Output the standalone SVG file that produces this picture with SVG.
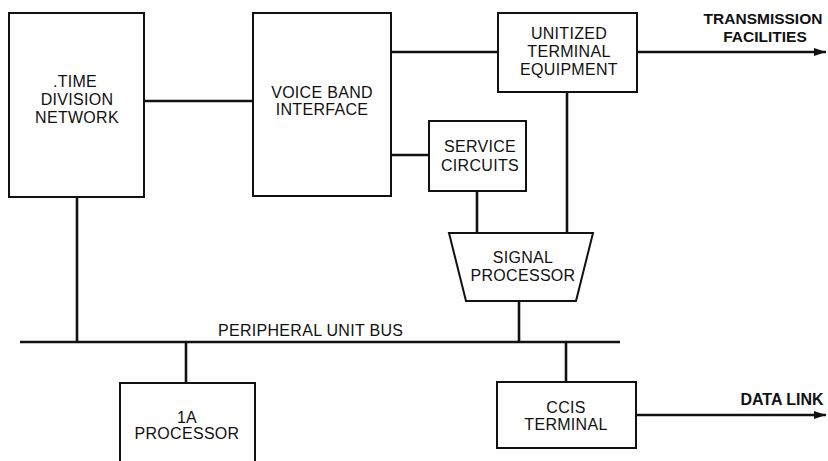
<svg xmlns="http://www.w3.org/2000/svg" width="828" height="461" viewBox="0 0 828 461">
<defs>
<marker id="arr" viewBox="0 0 12 8" refX="12" refY="4" markerWidth="12" markerHeight="8" markerUnits="userSpaceOnUse" orient="auto">
<path d="M0,0 L12,4 L0,8 z" fill="#111"/>
</marker>
</defs>
<style>
.box{fill:#fff;stroke:#111;stroke-width:2}
.ln{fill:none;stroke:#111;stroke-width:2.6}
text{font-family:"Liberation Sans",Arial,sans-serif;font-size:16px;fill:#111;text-anchor:middle;letter-spacing:0.3px}
.b{font-weight:bold;font-size:15.5px;letter-spacing:0}
</style>
<rect width="828" height="461" fill="#fff"/>
<g id="connectors">
<line class="ln" x1="144" y1="101" x2="253" y2="101"/>
<line class="ln" x1="391" y1="52" x2="498" y2="52"/>
<line class="ln" x1="391" y1="155" x2="429" y2="155"/>
<line class="ln" x1="637" y1="52" x2="826" y2="52" marker-end="url(#arr)"/>
<line class="ln" x1="477" y1="191" x2="477" y2="233"/>
<line class="ln" x1="567" y1="92" x2="567" y2="233"/>
<line class="ln" x1="519" y1="301" x2="519" y2="342"/>
<line class="ln" x1="20" y1="342" x2="620" y2="342"/>
<line class="ln" x1="77" y1="197" x2="77" y2="342"/>
<line class="ln" x1="186" y1="342" x2="186" y2="383"/>
<line class="ln" x1="566" y1="342" x2="566" y2="382"/>
<line class="ln" x1="636" y1="415" x2="826" y2="415" marker-end="url(#arr)"/>
</g>
<g id="tdn">
<rect class="box" x="9" y="13" width="135" height="184"/>
<text x="75" y="87">.TIME</text>
<text x="77" y="105">DIVISION</text>
<text x="77" y="123">NETWORK</text>
</g>
<g id="vbi">
<rect class="box" x="253" y="13" width="138" height="183"/>
<text x="322" y="98">VOICE BAND</text>
<text x="322" y="115">INTERFACE</text>
</g>
<g id="ute">
<rect class="box" x="498" y="13" width="139" height="79"/>
<text x="569" y="39">UNITIZED</text>
<text x="569" y="57">TERMINAL</text>
<text x="569" y="75">EQUIPMENT</text>
</g>
<g id="service">
<rect class="box" x="429" y="121" width="97" height="70"/>
<text x="480" y="152">SERVICE</text>
<text x="480" y="171">CIRCUITS</text>
</g>
<g id="signal">
<path class="box" d="M449,233 L593,233 L576,301 L466,301 z"/>
<text x="523" y="263">SIGNAL</text>
<text x="523" y="281">PROCESSOR</text>
</g>
<g id="bus-label">
<text x="218" y="336" style="text-anchor:start">PERIPHERAL UNIT BUS</text>
</g>
<g id="proc1a">
<rect class="box" x="120" y="383" width="135" height="90"/>
<text x="187" y="423">1A</text>
<text x="187" y="439">PROCESSOR</text>
</g>
<g id="ccis">
<rect class="box" x="497" y="382" width="139" height="66"/>
<text x="566" y="413">CCIS</text>
<text x="566" y="430">TERMINAL</text>
</g>
<g id="tx-label">
<text class="b" x="763" y="24">TRANSMISSION</text>
<text class="b" x="765" y="42">FACILITIES</text>
</g>
<g id="dl-label">
<text class="b" x="782" y="405" style="font-size:16px">DATA LINK</text>
</g>
</svg>
